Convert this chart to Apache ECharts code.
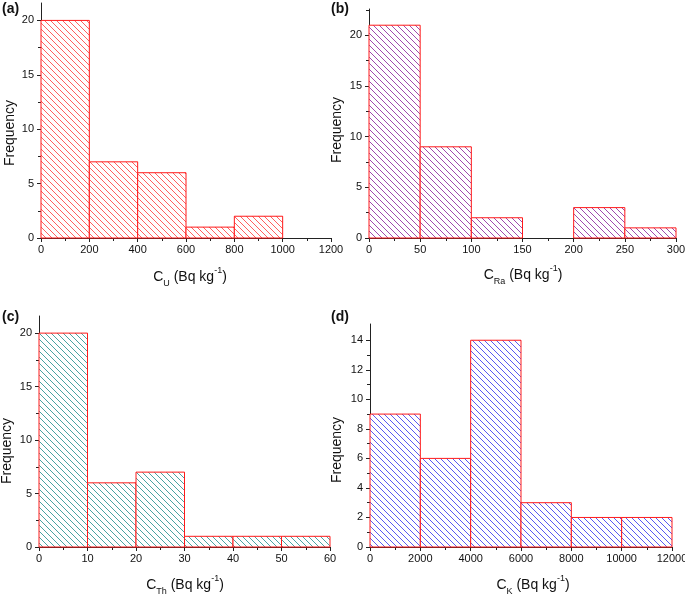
<!DOCTYPE html>
<html><head><meta charset="utf-8">
<script src="https://cdn.jsdelivr.net/npm/echarts@6/dist/echarts.min.js"></script>
<style>html,body{margin:0;padding:0;background:#fff}#c{width:685px;height:596px}</style>
</head><body><div id="c"></div>
<script>
// ---- data ----
const edgesA = [0, 200, 400, 600, 800, 1000];
const countsA = [20, 7, 6, 1, 2];
const edgesB = [0, 50, 100, 150, 200, 250, 300];
const countsB = [21, 9, 2, 0, 3, 1];
const edgesC = [0, 10, 20, 30, 40, 50, 60];
const countsC = [20, 6, 7, 1, 1, 1];
const edgesD = [0, 2000, 4000, 6000, 8000, 10000, 12000];
const countsD = [9, 6, 14, 3, 2, 2];

const yTicksA = [0, 5, 10, 15, 20];
const yMinorA = [2.5, 7.5, 12.5, 17.5];
const yTicksB = [0, 5, 10, 15, 20];
const yMinorB = [2.5, 7.5, 12.5, 17.5, 22.5];
const yTicksC = [0, 5, 10, 15, 20];
const yMinorC = [2.5, 7.5, 12.5, 17.5];
const yTicksD = [0, 2, 4, 6, 8, 10, 12, 14];
const yMinorD = [1, 3, 5, 7, 9, 11, 13];

function bins(edges, counts) {
  return counts.map((c, i) => [edges[i], edges[i + 1], c]);
}

function hatch(color) {
  const s = 6;
  const cv = document.createElement('canvas');
  cv.width = s; cv.height = s;
  const ctx = cv.getContext('2d');
  ctx.fillStyle = '#fff';
  ctx.fillRect(0, 0, s, s);
  ctx.strokeStyle = color;
  ctx.lineWidth = 1;
  for (const k of [-1, 0, 1]) {
    ctx.beginPath();
    ctx.moveTo(-2, -2 + k * s);
    ctx.lineTo(s + 2, s + 2 + k * s);
    ctx.stroke();
  }
  return { image: cv, repeat: 'repeat' };
}

const chart = echarts.init(document.getElementById('c'), null, { renderer: 'canvas' });

const grids = [
  { left: 41, top: 3, width: 290, height: 235 },
  { left: 369, top: 9, width: 307, height: 229 },
  { left: 39, top: 316, width: 291, height: 231 },
  { left: 370, top: 324, width: 302, height: 223 }
];
const xCfg = [
  { max: 1200, interval: 200 },
  { max: 300, interval: 50 },
  { max: 60, interval: 10 },
  { max: 12000, interval: 2000 }
];
const yCfg = [
  { max: 21.6, ticks: yTicksA, minor: yMinorA },
  { max: 22.6, ticks: yTicksB, minor: yMinorB },
  { max: 21.6, ticks: yTicksC, minor: yMinorC },
  { max: 15.1, ticks: yTicksD, minor: yMinorD }
];
const hatchColors = ['#ff6060', '#a04aae', '#4aa3a3', '#5a5af2'];
const dataSets = [bins(edgesA, countsA), bins(edgesB, countsB), bins(edgesC, countsC), bins(edgesD, countsD)];

const axisTxt = { color: '#111', fontSize: 11, fontFamily: 'Liberation Sans, Arial, sans-serif', formatter: v => String(v) };

const xAxis = xCfg.map((c, i) => ({
  type: 'value', gridIndex: i, min: 0, max: c.max, interval: c.interval,
  splitLine: { show: false },
  axisLine: { show: true, lineStyle: { color: '#222', width: 1 } },
  axisTick: { show: true, length: 4, lineStyle: { color: '#222' } },
  minorTick: { show: true, splitNumber: 2, length: 3, lineStyle: { color: '#222' } },
  axisLabel: Object.assign({ margin: 6 }, axisTxt)
}));

const yAxis = [];
yCfg.forEach((c, i) => {
  yAxis.push({
    type: 'value', gridIndex: i, min: 0, max: c.max, position: 'left',
    splitLine: { show: false },
    axisLine: { show: true, lineStyle: { color: '#222', width: 1 } },
    axisTick: { show: true, length: 4, customValues: c.ticks, lineStyle: { color: '#222' } },
    axisLabel: Object.assign({ margin: 7, customValues: c.ticks }, axisTxt)
  });
  yAxis.push({
    type: 'value', gridIndex: i, min: 0, max: c.max, position: 'left',
    splitLine: { show: false },
    axisLine: { show: false },
    axisTick: { show: true, length: 3, customValues: c.minor, lineStyle: { color: '#222' } },
    axisLabel: { show: false }
  });
});

const series = dataSets.map((d, i) => ({
  type: 'custom',
  xAxisIndex: i, yAxisIndex: i * 2,
  data: d,
  renderItem: function (params, api) {
    const v = api.value(2);
    if (!v) return null;
    const p1 = api.coord([api.value(0), v]);
    const p2 = api.coord([api.value(1), 0]);
    return {
      type: 'rect',
      shape: { x: p1[0], y: p1[1], width: p2[0] - p1[0], height: p2[1] - p1[1] },
      style: { fill: hatch(hatchColors[i]), stroke: '#ff1a1a', lineWidth: 1 }
    };
  }
}));

const mainF = 'Liberation Sans, Arial, sans-serif';
const rich = {
  m: { fontSize: 14, fontFamily: mainF, lineHeight: 22, verticalAlign: 'middle', fill: '#111' },
  s: { fontSize: 9, fontFamily: mainF, lineHeight: 9, verticalAlign: 'bottom', fill: '#111' },
  p: { fontSize: 9, fontFamily: mainF, lineHeight: 9, verticalAlign: 'top', fill: '#111' }
};
function xTitle(sub, x, y) {
  return {
    type: 'text', x: x, y: y,
    style: {
      text: '{m|C}{s|' + sub + '}{m| (Bq kg}{p|-1}{m|)}',
      rich: rich, align: 'center', verticalAlign: 'middle'
    }
  };
}
function freq(x, y) {
  return {
    type: 'text', x: x, y: y, rotation: Math.PI / 2,
    style: { text: 'Frequency', font: '14px ' + mainF, fill: '#111', align: 'center', verticalAlign: 'middle' }
  };
}
function panel(t, x, y) {
  return {
    type: 'text', x: x, y: y,
    style: { text: t, font: 'bold 14px ' + mainF, fill: '#111', align: 'left', verticalAlign: 'top' }
  };
}

chart.setOption({
  animation: false,
  backgroundColor: '#fff',
  grid: grids.map(g => Object.assign({ outerBoundsMode: 'none' }, g)),
  xAxis: xAxis,
  yAxis: yAxis,
  series: series,
  graphic: [
    panel('(a)', 2, 2), panel('(b)', 331, 2), panel('(c)', 2, 310), panel('(d)', 331, 310),
    freq(10, 133), freq(337, 130), freq(7, 451), freq(337, 450),
    xTitle('U', 190, 277), xTitle('Ra', 523, 275), xTitle('Th', 185, 585), xTitle('K', 533, 585)
  ]
});
</script>
</body></html>
